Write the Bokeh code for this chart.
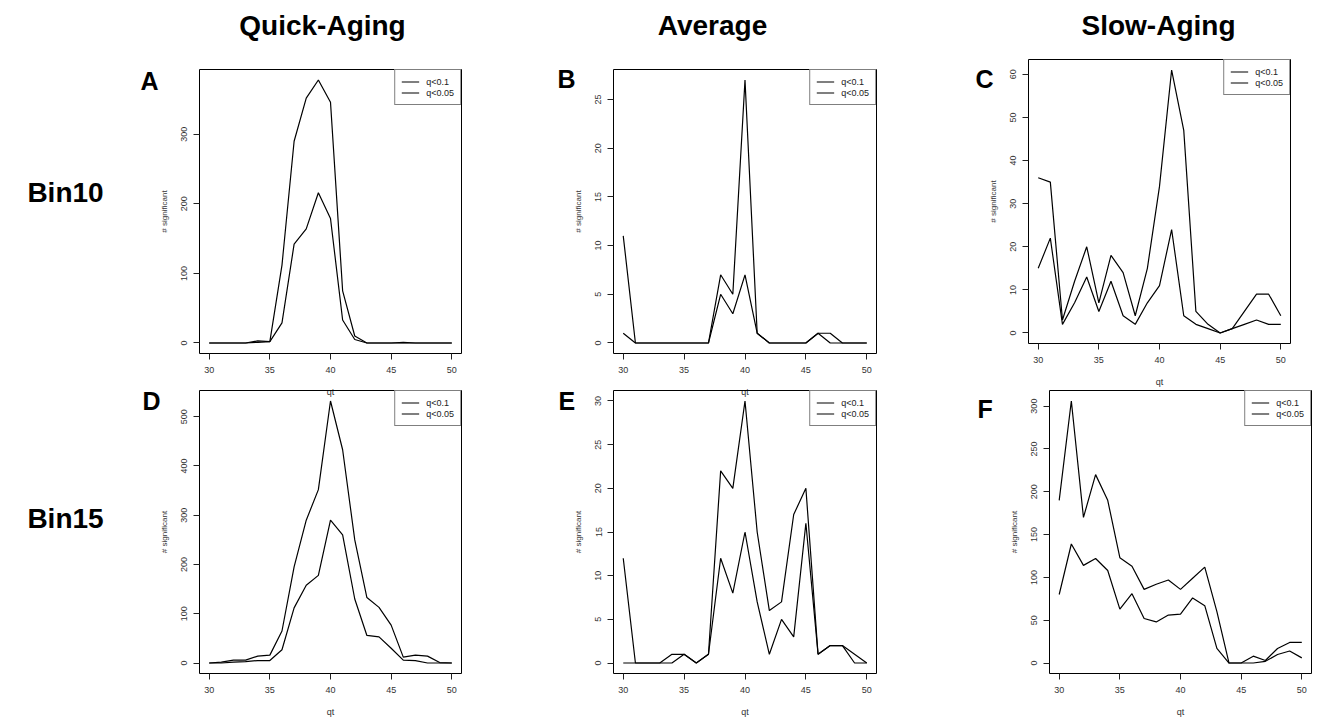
from bokeh.plotting import figure
from bokeh.layouts import row, column
from bokeh.models import Range1d, FixedTicker, Legend, LegendItem, Label
from bokeh.embed import file_html
from bokeh.resources import INLINE

qt = list(range(30, 51))

# Bin10
quick10_q10 = [0, 0, 0, 0, 3, 2, 112, 290, 352, 378, 346, 75, 10, 0, 0, 0, 1, 0, 0, 0, 0]
quick10_q05 = [0, 0, 0, 0, 1, 2, 29, 142, 164, 216, 179, 33, 5, 0, 0, 0, 0, 0, 0, 0, 0]
avg10_q10 = [11, 0, 0, 0, 0, 0, 0, 0, 7, 5, 27, 1, 0, 0, 0, 0, 1, 1, 0, 0, 0]
avg10_q05 = [1, 0, 0, 0, 0, 0, 0, 0, 5, 3, 7, 1, 0, 0, 0, 0, 1, 0, 0, 0, 0]
slow10_q10 = [36, 35, 3, 12, 20, 7, 18, 14, 4, 15, 34, 61, 47, 5, 2, 0, 1, 5, 9, 9, 4]
slow10_q05 = [15, 22, 2, 7, 13, 5, 12, 4, 2, 7, 11, 24, 4, 2, 1, 0, 1, 2, 3, 2, 2]
# Bin15
quick15_q10 = [0, 2, 6, 6, 14, 16, 65, 195, 290, 352, 532, 433, 250, 133, 113, 77, 12, 16, 14, 1, 0]
quick15_q05 = [0, 0, 2, 3, 5, 5, 27, 112, 158, 178, 290, 260, 130, 56, 53, 30, 6, 5, 0, 0, 0]
avg15_q10 = [12, 0, 0, 0, 1, 1, 0, 1, 22, 20, 30, 15, 6, 7, 17, 20, 1, 2, 2, 1, 0]
avg15_q05 = [0, 0, 0, 0, 0, 1, 0, 1, 12, 8, 15, 7, 1, 5, 3, 16, 1, 2, 2, 0, 0]
slow15_q10 = [190, 306, 170, 220, 190, 123, 113, 86, 92, 97, 86, 99, 112, 60, 0, 0, 8, 3, 17, 24, 24]
slow15_q05 = [80, 139, 114, 122, 108, 63, 81, 52, 48, 56, 57, 76, 67, 17, 0, 0, 0, 2, 10, 14, 6]

x_ticks = [30, 35, 40, 45, 50]
yticks_A = [0, 100, 200, 300]
yticks_B = [0, 5, 10, 15, 20, 25]
yticks_C = [0, 10, 20, 30, 40, 50, 60]
yticks_D = [0, 100, 200, 300, 400, 500]
yticks_E = [0, 5, 10, 15, 20, 25, 30]
yticks_F = [0, 50, 100, 150, 200, 250, 300]

legend_labels = ["q<0.1", "q<0.05"]
col_titles = ["Quick-Aging", "Average", "Slow-Aging"]
row_titles = ["Bin10", "Bin15"]
letters = ["A", "B", "C", "D", "E", "F"]

FONT = "Liberation Sans"
W, H = 1317, 723


def panel(s1, s2, yticks, bl, br, bt, bb, fw, fh):
    ymax = max(max(s1), max(s2))
    ymin = min(min(s1), min(s2))
    pad = (ymax - ymin) * 0.04
    p = figure(frame_width=fw, frame_height=fh, min_border_left=bl, min_border_right=br,
               min_border_top=bt, min_border_bottom=bb, title=None,
               toolbar_location=None, output_backend="svg",
               x_range=Range1d(29.2, 50.8), y_range=Range1d(ymin - pad, ymax + pad))
    p.background_fill_color = None
    p.border_fill_color = None
    p.outline_line_color = "black"
    p.outline_line_width = 1
    p.outline_line_alpha = 1
    p.xgrid.visible = False
    p.ygrid.visible = False
    p.xaxis.ticker = FixedTicker(ticks=x_ticks)
    p.yaxis.ticker = FixedTicker(ticks=yticks)
    p.xaxis.axis_label = "qt"
    p.yaxis.axis_label = "# significant"
    for ax in (p.xaxis[0], p.yaxis[0]):
        ax.axis_line_color = None
        ax.major_tick_out = 6
        ax.major_tick_in = 0
        ax.minor_tick_out = 0
        ax.minor_tick_in = 0
        ax.major_tick_line_color = "#222222"
        ax.major_label_text_font = FONT
        ax.major_label_text_font_size = "9px"
        ax.major_label_text_color = "#333333"
        ax.axis_label_text_font = FONT
        ax.axis_label_text_font_style = "normal"
        ax.axis_label_text_color = "#333333"
    p.xaxis.major_label_standoff = 7
    p.yaxis.major_label_standoff = 6
    p.yaxis.major_label_orientation = "vertical"
    p.xaxis.axis_label_text_font_size = "9px"
    p.yaxis.axis_label_text_font_size = "8px"
    p.xaxis.axis_label_standoff = 11
    p.yaxis.axis_label_standoff = 10
    r1 = p.line(qt, s1, line_color="black", line_width=1.2)
    r2 = p.line(qt, s2, line_color="black", line_width=1.2)
    leg = Legend(items=[LegendItem(label=legend_labels[0], renderers=[r1]),
                        LegendItem(label=legend_labels[1], renderers=[r2])],
                 location="top_right", margin=0, padding=6, spacing=0,
                 glyph_width=18, glyph_height=11, label_height=11, label_standoff=7,
                 label_text_font=FONT, label_text_font_size="9px",
                 label_text_color="#222222",
                 border_line_color="black", border_line_width=1,
                 background_fill_color="white", background_fill_alpha=1)
    p.add_layout(leg, "center")
    return p


# background canvas carrying the headings (pixel coordinates, y downwards)
bg = figure(frame_width=W, frame_height=H, min_border=0, title=None,
            toolbar_location=None, output_backend="svg",
            x_range=Range1d(0, W), y_range=Range1d(H, 0))
bg.axis.visible = False
bg.grid.visible = False
bg.outline_line_color = None
bg.background_fill_color = "white"
bg.border_fill_color = "white"


def add_text(txt, x, y, size, align="left"):
    bg.add_layout(Label(x=x, y=y, text=txt,
                        text_font=FONT, text_font_style="bold", text_font_size=size,
                        text_align=align, text_baseline="middle", text_color="black"))


add_text(col_titles[0], 322, 25, "28px", "center")
add_text(col_titles[1], 712, 25, "28px", "center")
add_text(col_titles[2], 1158, 25, "28px", "center")
add_text(row_titles[0], 65, 192, "28px", "center")
add_text(row_titles[1], 65, 518, "28px", "center")
add_text(letters[0], 140, 80, "25px")
add_text(letters[1], 557, 78, "25px")
add_text(letters[2], 975, 78, "25px")
add_text(letters[3], 142, 400, "25px")
add_text(letters[4], 558, 400, "25px")
add_text(letters[5], 977, 408, "25px")

# row 1 (height 400)
pA = panel(quick10_q10, quick10_q05, yticks_A, 199, 76, 69, 47, 262, 284)
pB = panel(avg10_q10, avg10_q05, yticks_B, 76, 76, 69, 47, 263, 284)
pC = panel(slow10_q10, slow10_q05, yticks_C, 76, 27, 69, 47, 262, 284)
pC.margin = (-10, 0, 0, 0)
# row 2 (height 343)
pD = panel(quick15_q10, quick15_q05, yticks_D, 199, 76, 10, 50, 262, 283)
pE = panel(avg15_q10, avg15_q05, yticks_E, 76, 76, 10, 50, 263, 283)
pF = panel(slow15_q10, slow15_q05, yticks_F, 97, 6, 10, 50, 262, 283)

r1 = row(pA, pB, pC, spacing=0)
r1.margin = (-H, 0, 0, 0)
r2 = row(pD, pE, pF, spacing=0)
r2.margin = (-20, 0, 0, 0)
layout = column(bg, r1, r2, spacing=0)

open("out.html", "w").write(file_html(layout, INLINE))
